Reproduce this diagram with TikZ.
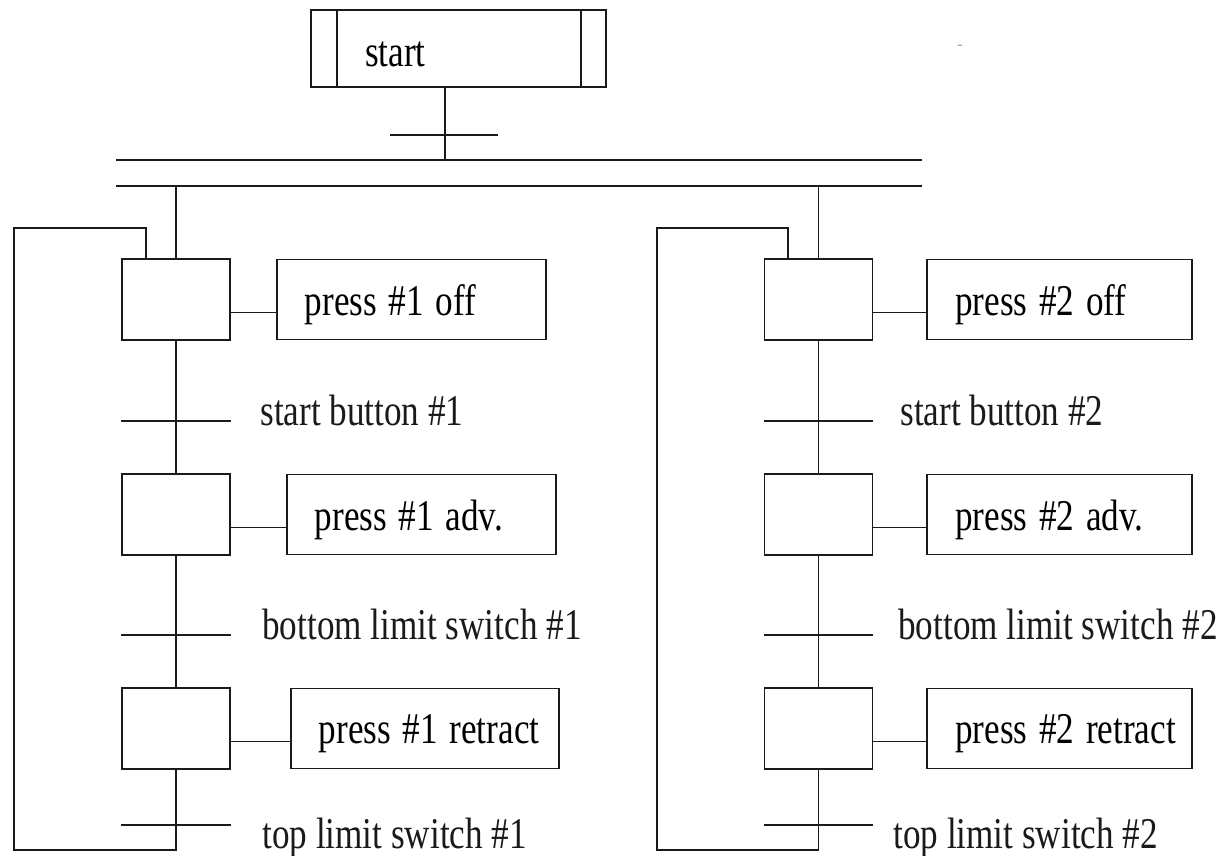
\documentclass[tikz,border=0pt]{standalone}
\usepackage{fontspec}
\setmainfont{Liberation Serif}
\usetikzlibrary{positioning,calc}
\definecolor{Ink}{HTML}{1A1A1A}
\definecolor{Speck}{HTML}{9A9A9A}
\newcommand{\tallword}[1]{\scalebox{1}[1.25]{#1}}
\newcommand{\boxword}[1]{\raisebox{-.11cm}[\height][\depth]{\scalebox{1}[1.25]{#1}}}
\tikzset{
  wire/.style={draw=Ink,line width=1.1pt},
  stepbox/.style={draw=Ink,line width=1.1pt,minimum width=2.16cm,minimum height=1.62cm,inner sep=0pt},
  actbox/.style={draw=Ink,line width=1.1pt,minimum height=1.6cm,inner xsep=.56cm,inner ysep=0pt,align=left,font=\fontsize{20}{24}\selectfont},
  initbox/.style={draw=Ink,line width=1.1pt,minimum width=5.9cm,minimum height=1.54cm,inner xsep=1.08cm,inner ysep=0pt,text width=3.74cm,align=left,font=\fontsize{20}{24}\selectfont},
  trlabel/.style={anchor=west,inner sep=0pt,text=Ink,font=\fontsize{20}{24}\selectfont}
}
\begin{document}
\begin{tikzpicture}[x=0.02cm,y=-0.02cm,node distance=.9cm]
        \useasboundingbox (0,0) rectangle (1225,856);
        % initial step and its transition
        \node[initbox] (init) at (458.5,48.5) {\boxword{start}};
        \draw[wire] ([xshift=.54cm]init.north west) -- ([xshift=.54cm]init.south west);
        \draw[wire] ([xshift=-.52cm]init.north east) -- ([xshift=-.52cm]init.south east);
        \node[text=Speck,inner sep=0pt,font=\small] (speck) at (960,47) {-};
        \coordinate (tr0) at (445,135);
        \coordinate (busa) at (116,160);
        \coordinate (busb) at (922,160);
        \coordinate (busc) at (116,186);
        \coordinate (busd) at (922,186);
        \draw[wire] (init.south -| tr0) -- (tr0 |- busa);
        \draw[wire] ([xshift=-1.1cm]tr0) -- ([xshift=1.06cm]tr0);
        \draw[wire] (busa) -- (busb);
        \draw[wire] (busc) -- (busd);
        % press 1
        \node[stepbox] (s1) at (176,299.5) {};
        \node[stepbox] (s2) at (176,514.5) {};
        \node[stepbox] (s3) at (176,728.5) {};
        \node[actbox,text width=4.26cm,right=.9cm of s1] (a1) {\boxword{press \#1 off}};
        \node[actbox,text width=4.26cm,right=1.1cm of s2] (a2) {\boxword{press \#1 adv.}};
        \node[actbox,text width=4.24cm,right=1.18cm of s3] (a3) {\boxword{press \#1 retract}};
        \coordinate (t1) at (177,421);
        \coordinate (t2) at (177,635);
        \coordinate (t3) at (177,825);
        \node[trlabel] (l1) at (260,410) {\tallword{start button \#1}};
        \node[trlabel] (l2) at (262,624) {\tallword{bottom limit switch \#1}};
        \node[trlabel] (l3) at (262,838) {\tallword{top limit switch \#1}};
        \draw[wire] (s1.west |- t1) -- (s1.east |- t1);
        \draw[wire] (s1.west |- t2) -- (s1.east |- t2);
        \draw[wire] (s1.west |- t3) -- (s1.east |- t3);
        \coordinate (lp1) at (14,850);
        \coordinate (lq1) at (146,228);
        \draw[wire] (s1.north |- busc) -- (s1.north);
        \draw[wire] (s1) -- (s2);
        \draw[wire] (s2) -- (s3);
        \draw[wire] (s3.south) -- (s3.south |- lp1) -- (lp1) |- (lq1) -- (lq1 |- s1.north);
        \draw[wire] ([yshift=-.26cm]s1.east) -- ([yshift=-.26cm]s1.east -| a1.west);
        \draw[wire] ([yshift=-.26cm]s2.east) -- ([yshift=-.26cm]s2.east -| a2.west);
        \draw[wire] ([yshift=-.26cm]s3.east) -- ([yshift=-.26cm]s3.east -| a3.west);
        % press 2
        \node[stepbox] (r1) at (818.5,299.5) {};
        \node[stepbox] (r2) at (818.5,514.5) {};
        \node[stepbox] (r3) at (818.5,728.5) {};
        \node[actbox,text width=4.18cm,right=1.06cm of r1] (b1) {\boxword{press \#2 off}};
        \node[actbox,text width=4.18cm,right=1.06cm of r2] (b2) {\boxword{press \#2 adv.}};
        \node[actbox,text width=4.18cm,right=1.06cm of r3] (b3) {\boxword{press \#2 retract}};
        \coordinate (u1) at (818,421);
        \coordinate (u2) at (818,635);
        \coordinate (u3) at (818,825);
        \node[trlabel] (m1) at (900,410) {\tallword{start button \#2}};
        \node[trlabel] (m2) at (898,624) {\tallword{bottom limit switch \#2}};
        \node[trlabel] (m3) at (893,838) {\tallword{top limit switch \#2}};
        \draw[wire] (r1.west |- u1) -- (r1.east |- u1);
        \draw[wire] (r1.west |- u2) -- (r1.east |- u2);
        \draw[wire] (r1.west |- u3) -- (r1.east |- u3);
        \coordinate (lp2) at (657,850);
        \coordinate (lq2) at (788,228);
        \draw[wire] (r1.north |- busd) -- (r1.north);
        \draw[wire] (r1) -- (r2);
        \draw[wire] (r2) -- (r3);
        \draw[wire] (r3.south) -- (r3.south |- lp2) -- (lp2) |- (lq2) -- (lq2 |- r1.north);
        \draw[wire] ([yshift=-.26cm]r1.east) -- ([yshift=-.26cm]r1.east -| b1.west);
        \draw[wire] ([yshift=-.26cm]r2.east) -- ([yshift=-.26cm]r2.east -| b2.west);
        \draw[wire] ([yshift=-.26cm]r3.east) -- ([yshift=-.26cm]r3.east -| b3.west);
      \end{tikzpicture}
\end{document}
